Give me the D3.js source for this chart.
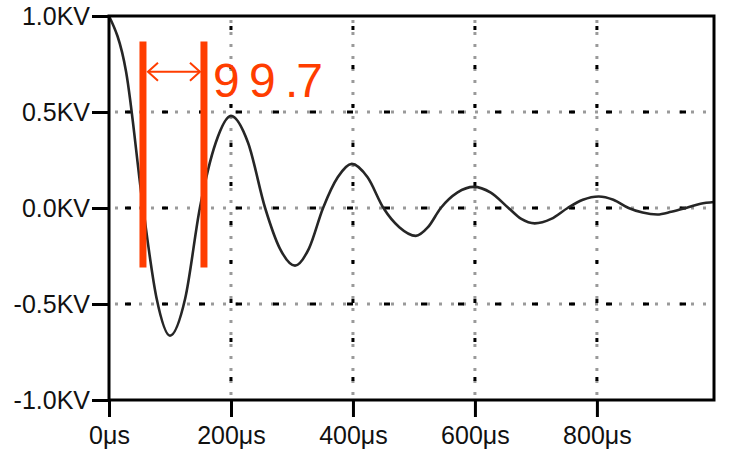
<!DOCTYPE html>
<html><head><meta charset="utf-8">
<script src="https://cdn.jsdelivr.net/npm/d3@7"></script>
<style>
html,body{margin:0;padding:0;background:#fff;}
svg{display:block;}
text{font-family:"Liberation Sans",Arial,sans-serif;}
</style></head>
<body>
<script>
// ---- data ----
const timeUs = [0, 28, 56, 78, 100, 125, 149, 175, 200, 228, 256, 280, 305, 328, 351, 375, 398, 424, 450, 476, 503, 523, 544, 571, 598, 626, 655, 676, 698, 725, 752, 777, 803, 827, 852, 875, 899, 922, 946, 970, 992];
const voltageKV = [1.0, 0.71, 0.0, -0.47, -0.665, -0.47, 0.0, 0.34, 0.48, 0.34, 0.0, -0.21, -0.30, -0.21, 0.0, 0.16, 0.23, 0.16, 0.0, -0.10, -0.145, -0.10, 0.0, 0.08, 0.11, 0.08, 0.0, -0.057, -0.08, -0.057, 0.0, 0.043, 0.06, 0.043, 0.0, -0.024, -0.034, -0.02, 0.0, 0.022, 0.031];
const xTicks = [0, 200, 400, 600, 800];
const xTickLabels = ["0μs", "200μs", "400μs", "600μs", "800μs"];
const yTicks = [-1.0, -0.5, 0.0, 0.5, 1.0];
const yTickLabels = ["-1.0KV", "-0.5KV", "0.0KV", "0.5KV", "1.0KV"];
const gridX = [200, 400, 600, 800];
const gridY = [-0.5, 0.0, 0.5];
const markerTimes = [55.7, 155.7];
const markerRange = [0.867, -0.31];
const arrowLevel = 0.71;
const annotationText = "9 9 .7";

// ---- layout ----
const W = 734, H = 464;
const svg = d3.select("body").append("svg").attr("width", W).attr("height", H);
const x = d3.scaleLinear().domain([0, 992]).range([109, 714]);
const y = d3.scaleLinear().domain([-1, 1]).range([400, 16]);

// grid
const g = svg.append("g");
gridY.forEach(v => {
  g.append("line").attr("x1", x(0)).attr("x2", x(992)).attr("y1", y(v)).attr("y2", y(v))
    .attr("stroke", "#9a9a9a").attr("stroke-width", 3).attr("stroke-dasharray", "3,9").attr("stroke-dashoffset", -6);
  g.append("line").attr("x1", x(0)).attr("x2", x(992)).attr("y1", y(v)).attr("y2", y(v))
    .attr("stroke", "#000").attr("stroke-width", 3).attr("stroke-dasharray", "6,31").attr("stroke-dashoffset", -16);
});
gridX.forEach(v => {
  g.append("line").attr("x1", x(v)).attr("x2", x(v)).attr("y1", y(1)).attr("y2", y(-1))
    .attr("stroke", "#9a9a9a").attr("stroke-width", 3).attr("stroke-dasharray", "3,9").attr("stroke-dashoffset", -4);
  g.append("line").attr("x1", x(v)).attr("x2", x(v)).attr("y1", y(1)).attr("y2", y(-1))
    .attr("stroke", "#000").attr("stroke-width", 3).attr("stroke-dasharray", "4,35").attr("stroke-dashoffset", -10);
});

// curve
const pts = timeUs.map((t, i) => [t, voltageKV[i]]);
svg.append("path").datum(pts)
  .attr("fill", "none").attr("stroke", "#262626").attr("stroke-width", 2.6)
  .attr("d", d3.line().x(d => x(d[0])).y(d => y(d[1])).curve(d3.curveMonotoneX));

// frame
svg.append("rect").attr("x", x(0)).attr("y", y(1)).attr("width", x(992) - x(0)).attr("height", y(-1) - y(1))
  .attr("fill", "none").attr("stroke", "#000").attr("stroke-width", 3);

// axes
const yAxis = d3.axisLeft(y).tickValues(yTicks).tickSize(17).tickPadding(2)
  .tickFormat((d, i) => yTickLabels[i]);
const ya = svg.append("g").attr("transform", `translate(${x(0)},0)`).call(yAxis);
const xAxis = d3.axisBottom(x).tickValues(xTicks).tickSize(17).tickPadding(9)
  .tickFormat((d, i) => xTickLabels[i]);
const xa = svg.append("g").attr("transform", `translate(0,${y(-1)})`).call(xAxis);
[ya, xa].forEach(a => {
  a.select(".domain").remove();
  a.selectAll(".tick line").attr("stroke", "#000").attr("stroke-width", 3);
  a.selectAll(".tick text").attr("fill", "#111").attr("font-size", 25);
});

// annotation
const red = "#ff3d00";
markerTimes.forEach(t => {
  svg.append("line").attr("x1", x(t)).attr("x2", x(t)).attr("y1", y(markerRange[0])).attr("y2", y(markerRange[1]))
    .attr("stroke", red).attr("stroke-width", 7);
});
const ax1 = x(markerTimes[0]) + 5, ax2 = x(markerTimes[1]) - 4, ay = y(arrowLevel);
svg.append("line").attr("x1", ax1).attr("x2", ax2).attr("y1", ay).attr("y2", ay).attr("stroke", red).attr("stroke-width", 2);
svg.append("path").attr("d", `M${ax1 + 10},${ay - 9}L${ax1},${ay}L${ax1 + 10},${ay + 9}`)
  .attr("fill", "none").attr("stroke", red).attr("stroke-width", 2);
svg.append("path").attr("d", `M${ax2 - 10},${ay - 9}L${ax2},${ay}L${ax2 - 10},${ay + 9}`)
  .attr("fill", "none").attr("stroke", red).attr("stroke-width", 2);
svg.append("text").attr("x", x(markerTimes[1]) + 9).attr("y", 97)
  .attr("fill", red).attr("font-size", 48).attr("letter-spacing", -2)
  .style("white-space", "pre").text(annotationText);
</script>
</body></html>
